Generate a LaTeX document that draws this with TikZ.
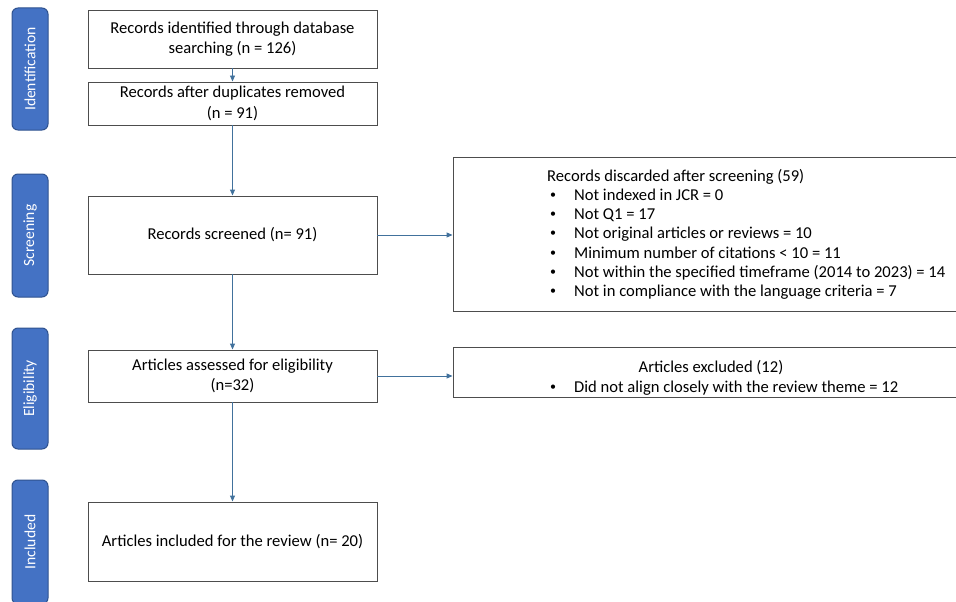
\documentclass[tikz,border=0pt]{standalone}
\usepackage{fontspec}
\setmainfont{Carlito}
\usetikzlibrary{arrows.meta}
\definecolor{tabblue}{HTML}{4472C4}
\definecolor{tabedge}{HTML}{2F528F}
\definecolor{flowblue}{HTML}{41719C}
\definecolor{boxgray}{HTML}{4D4D4D}
\tikzset{
  stage/.style={draw=tabedge, fill=tabblue, line width=1pt, rounded corners=6pt, rotate=90,
    minimum height=36pt, inner sep=0pt, text=white, font=\fontsize{15.6}{17}\selectfont},
  record/.style={draw=boxgray, line width=0.9pt, minimum width=289pt, inner sep=2pt,
    align=center, font=\fontsize{16.6}{20.5}\selectfont},
  sidebox/.style={draw=boxgray, line width=0.9pt, minimum width=510pt, inner sep=0pt},
  flow/.style={draw=flowblue, line width=0.9pt, -{Triangle[length=6pt,width=5pt]}},
  list/.style={anchor=north west, align=left, inner sep=0pt, font=\fontsize{16.6}{19.2}\selectfont}
}
\newcommand{\pitem}[1]{\hspace*{3pt}\makebox[24pt][l]{\raisebox{2pt}{\fontsize{12}{12}\selectfont•}}#1}
\begin{document}
\begin{tikzpicture}[x=1pt,y=-1pt]
\useasboundingbox (0,0) rectangle (956,602);
\node[stage, minimum width=122pt] (ident) at (30,69) {Identification};
\node[stage, minimum width=123pt] (screen) at (30,235.5) {Screening};
\node[stage, minimum width=121pt] (elig) at (30,388.5) {Eligibility};
\node[stage, minimum width=124pt] (incl) at (30,542) {Included};
\node[record, minimum height=58pt] (found) at (232.5,39) {Records identified through database\\searching (n = 126)};
\node[record, minimum height=43pt] (dedup) at (232.5,103.5) {Records after duplicates removed\\(n = 91)};
\node[record, minimum height=78pt] (screened) at (232.5,235) {Records screened (n= 91)};
\node[record, minimum height=52pt] (assessed) at (232.5,376) {Articles assessed for eligibility\\(n=32)};
\node[record, minimum height=79pt] (included) at (232.5,541.5) {Articles included for the review (n= 20)};
\node[sidebox, minimum height=154pt] (discard) at (708,234) {};
\node[sidebox, minimum height=50pt] (excl) at (708,372) {};
\node[list] (discardtxt) at (547,169) {Records discarded after screening (59)\\
\pitem{Not indexed in JCR = 0}\\
\pitem{Not Q1 = 17}\\
\pitem{Not original articles or reviews = 10}\\
\pitem{Minimum number of citations < 10 = 11}\\
\pitem{Not within the specified timeframe (2014 to 2023) = 14}\\
\pitem{Not in compliance with the language criteria = 7}};
\node[list, anchor=north] (excltitle) at (711,360) {Articles excluded (12)};
\node[list] (excltxt) at (547,381) {\pitem{Did not align closely with the review theme = 12}};
\draw[flow] (found) -- (dedup);
\draw[flow] (dedup) -- (screened);
\draw[flow] (screened) -- (assessed);
\draw[flow] (assessed) -- (included);
\draw[flow] (screened.east) -- (screened.east -| discard.west);
\draw[flow] (assessed.east) -- (assessed.east -| excl.west);
\end{tikzpicture}
\end{document}
